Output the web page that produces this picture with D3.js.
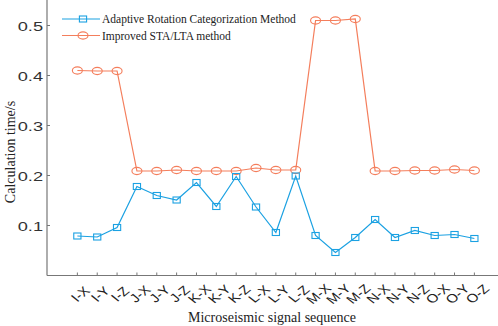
<!DOCTYPE html>
<html>
<head>
<meta charset="utf-8">
<script src="https://cdn.jsdelivr.net/npm/d3@7"></script>
<style>
  body { margin: 0; background: #fff; }
  svg { display: block; }
</style>
</head>
<body>
<script>
// Data
const categories = ["I-X","I-Y","I-Z","J-X","J-Y","J-Z","K-X","K-Y","K-Z",
                    "L-X","L-Y","L-Z","M-X","M-Y","M-Z","N-X","N-Y","N-Z","O-X","O-Y","O-Z"];
const adaptiveTimes = [0.079,0.077,0.096,0.178,0.160,0.151,0.186,0.138,0.198,
                       0.137,0.086,0.199,0.080,0.046,0.076,0.112,0.076,0.090,0.080,0.082,0.074];
const staltaTimes   = [0.410,0.409,0.409,0.209,0.209,0.211,0.209,0.209,0.209,
                       0.215,0.211,0.211,0.510,0.510,0.513,0.209,0.209,0.210,0.210,0.212,0.210];
const yTicks = [0.1, 0.2, 0.3, 0.4, 0.5];
const seriesNames = ["Adaptive Rotation Categorization Method", "Improved STA/LTA method"];

const width = 498, height = 326;
const blue = "#1ba1e2", orange = "#f47e5c";

const svg = d3.select("body").append("svg")
    .attr("width", width)
    .attr("height", height);

// Plot area: left axis at x=47, bottom axis at y=275
const x = d3.scaleLinear().domain([-1.53, 21.19]).range([47, 498]);
const y = d3.scaleLinear().domain([0, 0.55]).range([275.5, 0.5]);

// Axes lines
svg.append("line")
    .attr("x1", x(-1.53)).attr("x2", x(-1.53))
    .attr("y1", 0).attr("y2", y(0))
    .attr("stroke", "#777").attr("stroke-width", 1.2);
svg.append("line")
    .attr("x1", x(-1.53)).attr("x2", width)
    .attr("y1", y(0)).attr("y2", y(0))
    .attr("stroke", "#777").attr("stroke-width", 1.2);

// Y ticks (inward) and labels
const yg = svg.append("g");
yg.selectAll("line").data(yTicks).join("line")
    .attr("x1", 47).attr("x2", 50)
    .attr("y1", d => y(d)).attr("y2", d => y(d))
    .attr("stroke", "#777");
yg.selectAll("text").data(yTicks).join("text")
    .attr("transform", d => `translate(43,${y(d) + 5}) scale(1.35,1)`)
    .attr("text-anchor", "end")
    .attr("font-family", "Liberation Sans, Arial, sans-serif")
    .attr("font-size", 13.5)
    .attr("fill", "#333")
    .text(d => d.toFixed(1));

// X ticks (inward) and rotated labels
const xg = svg.append("g");
xg.selectAll("line").data(categories).join("line")
    .attr("x1", (d, i) => x(i)).attr("x2", (d, i) => x(i))
    .attr("y1", y(0)).attr("y2", y(0) - 3)
    .attr("stroke", "#777");
xg.selectAll("text").data(categories).join("text")
    .attr("transform", (d, i) => `translate(${x(i) + 3},${294}) scale(1.25,1) rotate(-45)`)
    .attr("text-anchor", "middle")
    .attr("dy", "0.35em")
    .attr("font-family", "Liberation Sans, Arial, sans-serif")
    .attr("font-size", 12)
    .attr("fill", "#222")
    .text(d => d);

// Axis titles
svg.append("text")
    .attr("x", 272).attr("y", 322)
    .attr("text-anchor", "middle")
    .attr("font-family", "Liberation Serif, Times New Roman, serif")
    .attr("font-size", 14)
    .attr("fill", "#222")
    .text("Microseismic signal sequence");
svg.append("text")
    .attr("transform", "translate(15,152) rotate(-90)")
    .attr("text-anchor", "middle")
    .attr("font-family", "Liberation Serif, Times New Roman, serif")
    .attr("font-size", 14)
    .attr("fill", "#222")
    .text("Calculation time/s");

// Lines
const line = d3.line().x((d, i) => x(i)).y(d => y(d));
svg.append("path").datum(staltaTimes)
    .attr("d", line).attr("fill", "none")
    .attr("stroke", orange).attr("stroke-width", 1.2);
svg.append("path").datum(adaptiveTimes)
    .attr("d", line).attr("fill", "none")
    .attr("stroke", blue).attr("stroke-width", 1.2);

// Markers
svg.append("g").selectAll("ellipse").data(staltaTimes).join("ellipse")
    .attr("cx", (d, i) => x(i)).attr("cy", d => y(d))
    .attr("rx", 5).attr("ry", 3.6)
    .attr("fill", "none").attr("stroke", orange).attr("stroke-width", 1.1);
svg.append("g").selectAll("rect").data(adaptiveTimes).join("rect")
    .attr("x", (d, i) => x(i) - 3.6).attr("y", d => y(d) - 3)
    .attr("width", 7.2).attr("height", 6)
    .attr("fill", "none").attr("stroke", blue).attr("stroke-width", 1.1);

// Legend
const legend = svg.append("g");
const legendRows = [
    {name: seriesNames[0], color: blue, mark: "square", y: 19},
    {name: seriesNames[1], color: orange, mark: "circle", y: 35.5}
];
legendRows.forEach(r => {
    legend.append("line")
        .attr("x1", 62).attr("x2", 100)
        .attr("y1", r.y).attr("y2", r.y)
        .attr("stroke", r.color).attr("stroke-width", 1.2);
    if (r.mark === "square") {
        legend.append("rect")
            .attr("x", 83 - 3.6).attr("y", r.y - 3)
            .attr("width", 7.2).attr("height", 6)
            .attr("fill", "none").attr("stroke", r.color).attr("stroke-width", 1.1);
    } else {
        legend.append("ellipse")
            .attr("cx", 83).attr("cy", r.y)
            .attr("rx", 5).attr("ry", 3.6)
            .attr("fill", "none").attr("stroke", r.color).attr("stroke-width", 1.1);
    }
    legend.append("text")
        .attr("x", 102).attr("y", r.y + 4)
        .attr("font-family", "Liberation Serif, Times New Roman, serif")
        .attr("font-size", 11.5)
        .attr("fill", "#222")
        .text(r.name);
});
</script>
</body>
</html>
